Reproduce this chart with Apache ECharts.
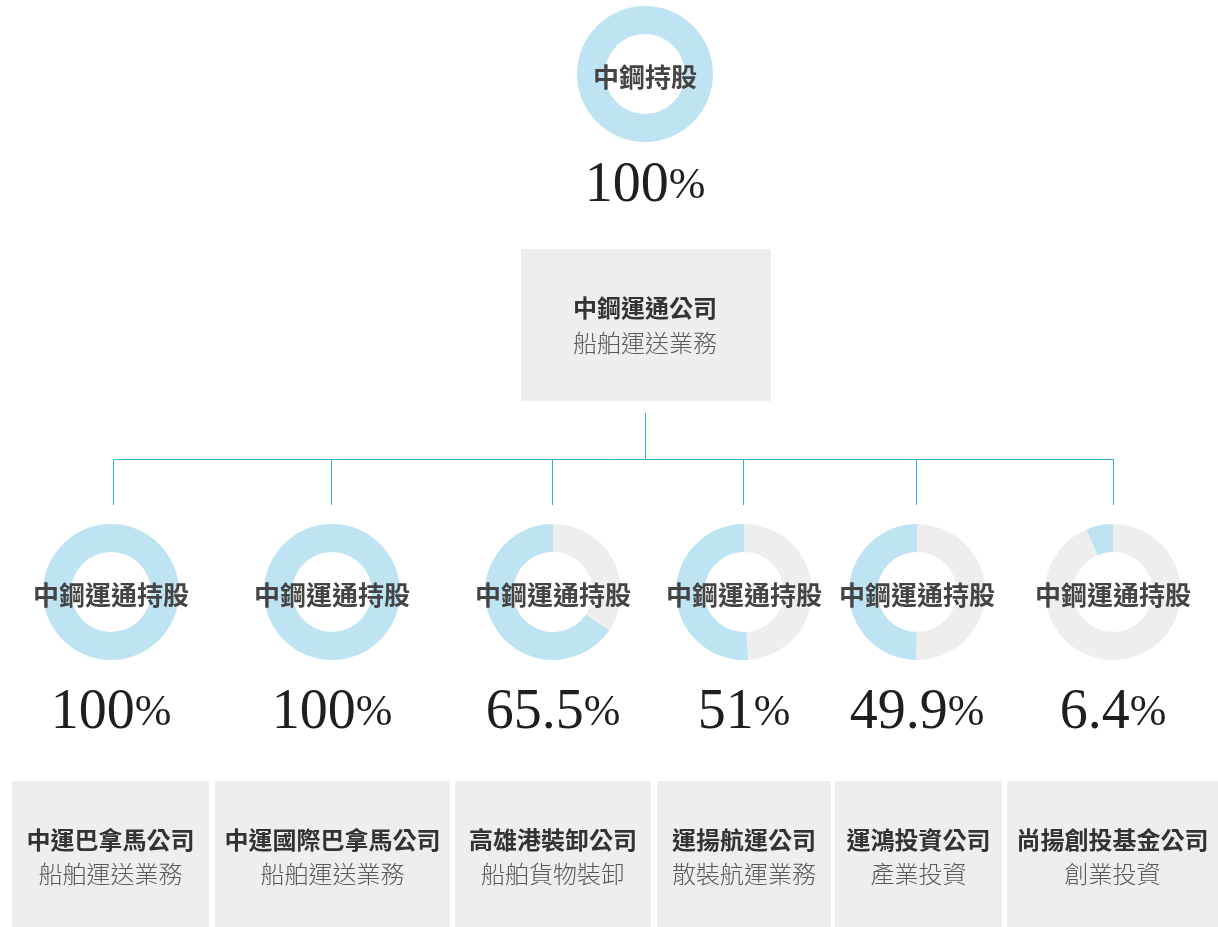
<!DOCTYPE html>
<html>
<head>
<meta charset="utf-8">
<title>中鋼運通持股</title>
<script src="https://cdn.jsdelivr.net/npm/echarts@6/dist/echarts.min.js"></script>
<style>
html,body{margin:0;padding:0;background:#fff;}
#main{width:1218px;height:927px;}
</style>
</head>
<body>
<div id="main"></div>
<script>
// 資料
var parentOwner = '中鋼持股';
var parentShare = 100;
var parentShareLabel = '100';
var parentName = '中鋼運通公司';
var parentBusiness = '船舶運送業務';

var subOwner = '中鋼運通持股';
var subShares = [100, 100, 65.5, 51, 49.9, 6.4];
var subShareLabels = ['100', '100', '65.5', '51', '49.9', '6.4'];
var subNames = ['中運巴拿馬公司', '中運國際巴拿馬公司', '高雄港裝卸公司', '運揚航運公司', '運鴻投資公司', '尚揚創投基金公司'];
var subBusiness = ['船舶運送業務', '船舶運送業務', '船舶貨物裝卸', '散裝航運業務', '產業投資', '創業投資'];

// 版面
var subX = [111, 332, 553, 744, 917, 1113];
var lineX = [113.5, 331.5, 552.5, 743.5, 916.5, 1113.5];
var boxes = [[12, 197], [215, 235], [455, 196], [657, 174], [835, 167], [1007, 211]];
var blue = '#bee3f2', grey = '#eeeeee', lineColor = '#2ab4dc';
var sans = '"Noto Sans CJK TC", "Noto Sans", sans-serif';
var serif = '"Liberation Serif", "DejaVu Serif", serif';

var chart = echarts.init(document.getElementById('main'));

function donut(cx, cy, value) {
    return {
        type: 'pie',
        silent: true,
        center: [cx, cy],
        radius: [40, 68],
        startAngle: 90,
        clockwise: false,
        label: {show: false},
        labelLine: {show: false},
        emphasis: {disabled: true},
        data: [
            {value: value, itemStyle: {color: blue}},
            {value: 100 - value, itemStyle: {color: grey}}
        ]
    };
}

function pctText(x, y, label) {
    return {
        type: 'text', x: x, y: y, z: 10,
        style: {
            text: '{n|' + label + '}{p|%}',
            align: 'center', verticalAlign: 'middle',
            rich: {
                n: {font: '56px ' + serif, fill: '#1f1f1f'},
                p: {font: '44px ' + serif, fill: '#1f1f1f'}
            }
        }
    };
}

function txt(x, y, s, font, color) {
    return {
        type: 'text', x: x, y: y, z: 10,
        style: {text: s, font: font, fill: color, align: 'center', verticalAlign: 'middle'}
    };
}

var series = [donut(645, 74, parentShare)];
subShares.forEach(function (v, i) { series.push(donut(subX[i], 592, v)); });

var graphic = [];
// 上方
graphic.push(txt(645, 77, parentOwner, 'bold 26px ' + sans, '#444'));
graphic.push(pctText(645, 186, parentShareLabel));
graphic.push({type: 'rect', shape: {x: 521, y: 249, width: 250, height: 152}, style: {fill: grey}});
graphic.push(txt(645, 308, parentName, 'bold 24px ' + sans, '#333'));
graphic.push(txt(645, 343, parentBusiness, '300 24px ' + sans, '#5a5a5a'));
// 連線
graphic.push({type: 'line', shape: {x1: 645.5, y1: 413, x2: 645.5, y2: 459.5}, style: {stroke: lineColor, lineWidth: 1}});
graphic.push({type: 'line', shape: {x1: lineX[0], y1: 459.5, x2: lineX[5], y2: 459.5}, style: {stroke: lineColor, lineWidth: 1}});
lineX.forEach(function (lx) {
    graphic.push({type: 'line', shape: {x1: lx, y1: 459.5, x2: lx, y2: 505}, style: {stroke: lineColor, lineWidth: 1}});
});
// 子公司
subNames.forEach(function (name, i) {
    graphic.push(txt(subX[i], 595, subOwner, 'bold 26px ' + sans, '#444'));
    graphic.push(pctText(subX[i], 713, subShareLabels[i]));
    var b = boxes[i];
    var cx = b[0] + b[1] / 2;
    graphic.push({type: 'rect', shape: {x: b[0], y: 781, width: b[1], height: 146}, style: {fill: grey}});
    graphic.push(txt(cx, 840, name, 'bold 24px ' + sans, '#333'));
    graphic.push(txt(cx, 874, subBusiness[i], '300 24px ' + sans, '#5a5a5a'));
});

chart.setOption({
    animation: false,
    backgroundColor: '#fff',
    series: series,
    graphic: graphic
});
</script>
</body>
</html>
